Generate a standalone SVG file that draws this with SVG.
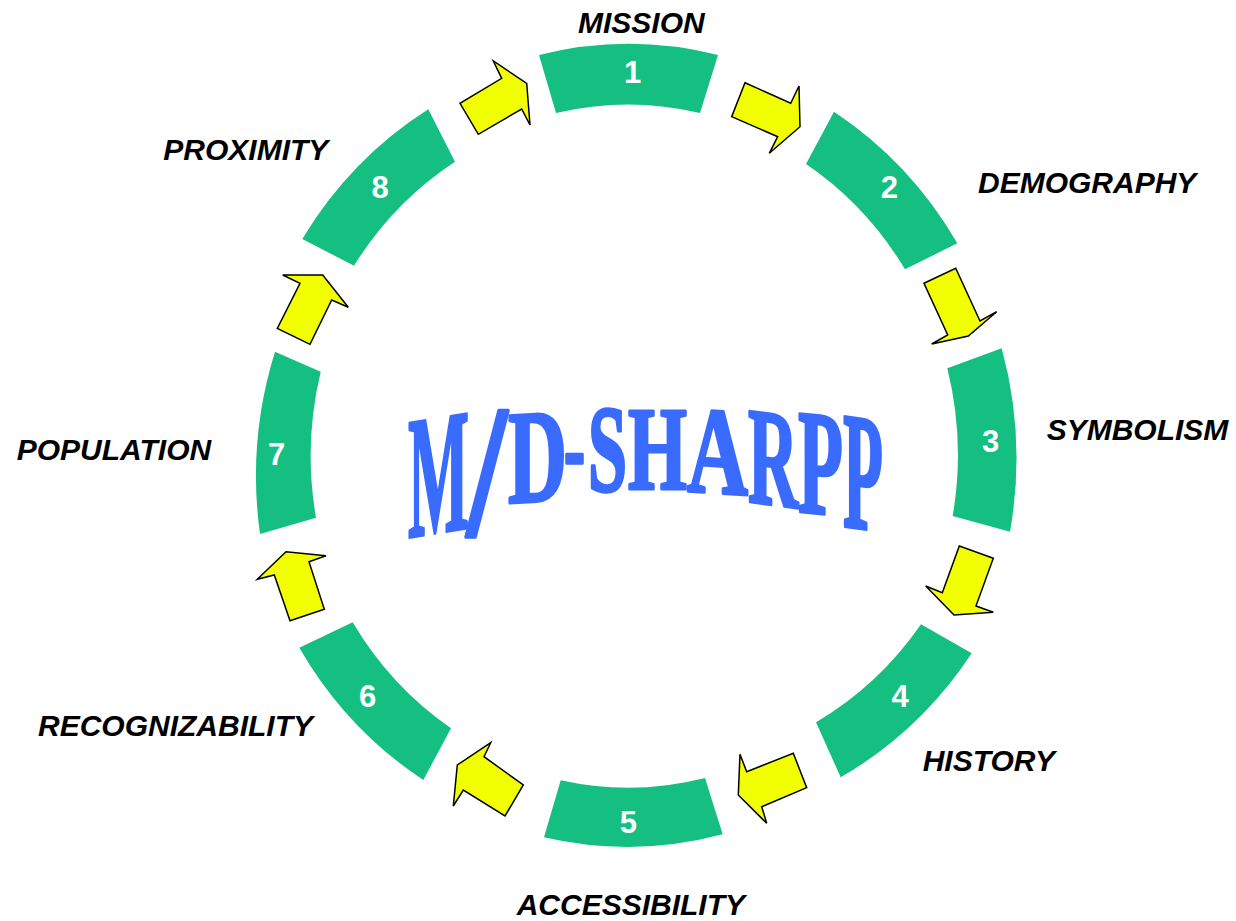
<svg xmlns="http://www.w3.org/2000/svg" width="1236" height="921" viewBox="0 0 1236 921">
<defs>
<style>
.seg{fill:#15BF81;stroke:none}
.num{font-family:"Liberation Sans",Arial,sans-serif;font-weight:bold;font-size:31px;fill:#FFFFFF;text-anchor:middle}
.lbl{font-family:"Liberation Sans",Arial,sans-serif;font-weight:bold;font-style:italic;font-size:30px;fill:#000000}
.arr{fill:#F2FF00;stroke:#000000;stroke-width:1.5;stroke-linejoin:miter}
.ttl{font-family:"Liberation Serif","Times New Roman",serif;font-weight:bold;font-size:100px;fill:#3A6BFF;stroke:#3A6BFF;stroke-width:2.5px;stroke-linejoin:round;vector-effect:non-scaling-stroke}
</style>
</defs>
<rect x="0" y="0" width="1236" height="921" fill="#FFFFFF"/>

<g id="connectors">
<polygon class="arr" points="745,82.7 790.7,103.3 799,86 800,126.7 769.3,153.3 777.7,136.7 731.7,116.7"/>
<polygon class="arr" points="924,283.3 955.7,268.3 980,321 996.7,311.7 968.3,336 931.7,344 947.7,335"/>
<polygon class="arr" points="959.3,546 993.3,558.3 976,606 993.3,612.3 954,615 925.7,586 942.3,592.7"/>
<polygon class="arr" points="738.3,795 740,754.3 746.7,771.7 793.3,753.3 806.7,787.7 761.7,806.7 766.7,823.3"/>
<polygon class="arr" points="457.3,765 490.7,742.7 484,756.7 523.3,785 505,816 463.3,790 453.3,806"/>
<polygon class="arr" points="257.3,579.3 286,551.7 326,555.7 309,561.7 324.3,609.3 290,620.7 274.3,575"/>
<polygon class="arr" points="282.7,275 322.7,275 348.3,307.3 331.7,300 310,344.3 277.3,328.3 300,283.3"/>
<polygon class="arr" points="526.7,83.3 530,125 521.7,109 478.3,134.3 460,103.3 501.7,78.3 493.3,61"/>
</g>

<g id="node-1">
<path class="seg" d="M539,55 A385,402 0 0 1 718,55 L700,113 A327,344 0 0 0 556,113 Z"/>
<text class="num" x="632.7" y="83">1</text>
<text class="lbl" x="578" y="33">MISSION</text>
</g>
<g id="node-2">
<path class="seg" d="M834,111.7 A385,402 0 0 1 957.3,243.3 L905,269.3 A327,344 0 0 0 806,164 Z"/>
<text class="num" x="889.3" y="198">2</text>
<text class="lbl" x="978" y="193">DEMOGRAPHY</text>
</g>
<g id="node-3">
<path class="seg" d="M1001.7,348.3 A385,402 0 0 1 1010,531.7 L952.7,516 A327,344 0 0 0 947.3,368.3 Z"/>
<text class="num" x="990.7" y="451.5">3</text>
<text class="lbl" x="1046.7" y="440">SYMBOLISM</text>
</g>
<g id="node-4">
<path class="seg" d="M971.7,653.3 A385,402 0 0 1 840.7,777.3 L816,722.3 A327,344 0 0 0 921,624.3 Z"/>
<text class="num" x="900" y="707">4</text>
<text class="lbl" x="922.7" y="771">HISTORY</text>
</g>
<g id="node-5">
<path class="seg" d="M722.7,834.3 A385,402 0 0 1 544,837.3 L560.7,780.3 A327,344 0 0 0 705,778 Z"/>
<text class="num" x="628.3" y="832.5">5</text>
<text class="lbl" x="516.7" y="915">ACCESSIBILITY</text>
</g>
<g id="node-6">
<path class="seg" d="M423.3,780 A385,402 0 0 1 299.3,647.7 L352.7,622.3 A327,344 0 0 0 451,728.3 Z"/>
<text class="num" x="367.7" y="706.5">6</text>
<text class="lbl" x="38" y="736">RECOGNIZABILITY</text>
</g>
<g id="node-7">
<path class="seg" d="M260,534 A385,402 0 0 1 275,351.7 L320.7,371.7 A327,344 0 0 0 316,517.7 Z"/>
<text class="num" x="276.7" y="464.5">7</text>
<text class="lbl" x="16.7" y="460">POPULATION</text>
</g>
<g id="node-8">
<path class="seg" d="M302.3,239 A385,402 0 0 1 428.3,109.3 L455,161.7 A327,344 0 0 0 354,265.7 Z"/>
<text class="num" x="380" y="198">8</text>
<text class="lbl" x="163.3" y="160">PROXIMITY</text>
</g>

<g id="title">
<text class="ttl" x="0" y="0" textLength="100" lengthAdjust="spacingAndGlyphs" transform="matrix(0.61,-0.10,0,1.74,408,537.5)">M</text>
<text class="ttl" x="0" y="0" textLength="100" lengthAdjust="spacingAndGlyphs" transform="matrix(0.40,0,0,1.89,467,535)">/</text>
<text class="ttl" x="0" y="0" textLength="100" lengthAdjust="spacingAndGlyphs" transform="matrix(0.59,-0.037,0,1.33,508,503)">D</text>
<text class="ttl" x="0" y="0" textLength="100" lengthAdjust="spacingAndGlyphs" transform="matrix(0.21,0,0,1.0,564,482)">-</text>
<text class="ttl" x="0" y="0" textLength="100" lengthAdjust="spacingAndGlyphs" transform="matrix(0.39,0,0,1.23,588,490.5)">S</text>
<text class="ttl" x="0" y="0" textLength="100" lengthAdjust="spacingAndGlyphs" transform="matrix(0.59,0,0,1.18,628,489)">H</text>
<text class="ttl" x="0" y="0" textLength="100" lengthAdjust="spacingAndGlyphs" transform="matrix(0.61,0.04,0,1.24,687,491)">A</text>
<text class="ttl" x="0" y="0" textLength="100" lengthAdjust="spacingAndGlyphs" transform="matrix(0.50,0.065,0,1.38,748,501.5)">R</text>
<text class="ttl" x="0" y="0" textLength="100" lengthAdjust="spacingAndGlyphs" transform="matrix(0.45,0.0415,0,1.49,798,511.5)">P</text>
<text class="ttl" x="0" y="0" textLength="100" lengthAdjust="spacingAndGlyphs" transform="matrix(0.40,0.0565,0,1.67,843,526)">P</text>
</g>
</svg>
